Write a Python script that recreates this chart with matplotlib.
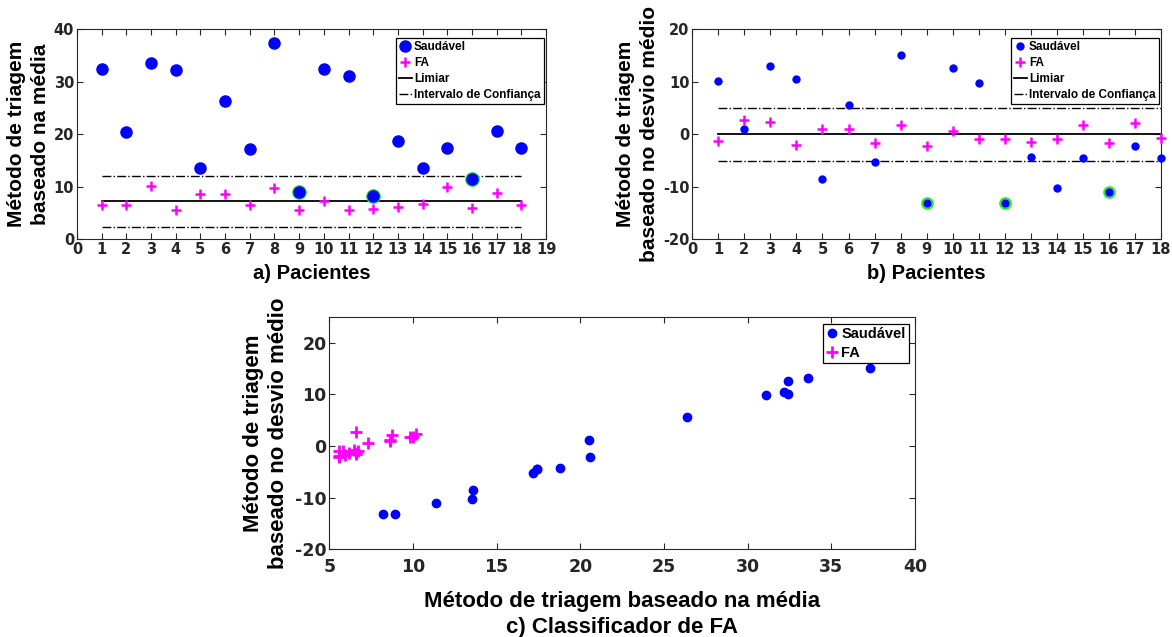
import numpy as np
import matplotlib.pyplot as plt

plt.rcParams['font.family'] = ['Liberation Sans', 'DejaVu Sans']
plt.rcParams['font.weight'] = 'bold'
plt.rcParams['axes.unicode_minus'] = False

# --- Data ---
pacientes = np.arange(1, 19)
media_saudavel = [32.4, 20.5, 33.6, 32.2, 13.6, 26.4, 17.2, 37.3, 8.95,
                  32.4, 31.1, 8.2, 18.8, 13.5, 17.4, 11.4, 20.6, 17.4]
media_fa = [6.6, 6.6, 10.2, 5.6, 8.6, 8.6, 6.6, 9.8, 5.6,
            7.3, 5.6, 5.8, 6.15, 6.7, 10.0, 5.95, 8.75, 6.5]
desvio_saudavel = [10.1, 1.1, 13.1, 10.5, -8.6, 5.6, -5.2, 15.1, -13.1,
                   12.6, 9.8, -13.1, -4.3, -10.3, -4.45, -11.0, -2.2, -4.45]
desvio_fa = [-1.35, 2.7, 2.3, -2.0, 0.95, 1.1, -1.65, 1.8, -2.2,
             0.57, -0.95, -0.9, -1.4, -0.9, 1.7, -1.7, 2.1, -0.7]
limiar_media = 7.3
ic_media = [2.4, 12.1]
limiar_desvio = 0.0
ic_desvio = [-5.0, 5.0]
destaque = [9, 12, 16]  # healthy patients misclassified

GRAY = '#262626'
BLUE = '#0000ff'
MAG = '#ff00ff'
GREEN = '#22ee22'

W, H = 1172, 637
fig = plt.figure(figsize=(W / 100, H / 100), dpi=100)


def px_axes(left, top, right, bottom):
    return fig.add_axes([left / W, 1 - bottom / H, (right - left) / W, (bottom - top) / H])


def style(ax, fs, xpad=2):
    # wide bold digits like the original MATLAB export
    ax.tick_params(direction='in', top=True, right=True, length=4, width=0.8,
                   colors=GRAY, labelsize=fs, pad=2)
    ax.tick_params(axis='x', pad=xpad)
    for s in ax.spines.values():
        s.set_color(GRAY)
        s.set_linewidth(0.8)
    for lab in ax.get_xticklabels() + ax.get_yticklabels():
        lab.set_fontweight('bold')
        lab.set_family('DejaVu Sans')


def panel(ax, saud, fa, limiar, ic, ms, ring, fa_ms, xmax, ylim, yticks, ylabel, xlabel):
    idx = [p - 1 for p in destaque]
    ax.plot(pacientes[idx], np.array(saud)[idx], 'o', ms=ring, mfc='none',
            mec=GREEN, mew=1.6, zorder=3, clip_on=False)
    ax.plot(pacientes, saud, 'o', color=BLUE, ms=ms, label='Saudável', zorder=4,
            clip_on=False)
    ax.plot(pacientes, fa, '+', color=MAG, ms=fa_ms, mew=1.8, label='FA', zorder=4,
            clip_on=False)
    ax.plot([1, 18], [limiar, limiar], '-', color='black', lw=1.3, label='Limiar')
    ax.plot([1, 18], [ic[1], ic[1]], '-.', color='black', lw=1.0,
            label='Intervalo de Confiança')
    ax.plot([1, 18], [ic[0], ic[0]], '-.', color='black', lw=1.0)
    ax.set_xlim(0, xmax)
    ax.set_xticks(range(0, xmax + 1))
    ax.set_ylim(*ylim)
    ax.set_yticks(yticks)
    ax.set_ylabel(ylabel, fontsize=15, fontweight='bold', labelpad=3, linespacing=1.3)
    ax.set_xlabel(xlabel, fontsize=14.5, fontweight='bold', labelpad=5)
    style(ax, 10.5)
    leg = ax.legend(loc='upper right', bbox_to_anchor=(0.995, 0.96),
                    handlelength=1.1, handletextpad=0.2, labelspacing=0.35,
                    borderpad=0.25, borderaxespad=0, fancybox=False, framealpha=1,
                    edgecolor='black', prop={'weight': 'bold', 'size': 8.5})
    leg.get_frame().set_linewidth(0.9)


# a) mean-based method
ax_a = px_axes(77, 29.3, 546, 239.3)
panel(ax_a, media_saudavel, media_fa, limiar_media, ic_media, 8, 9, 6.5, 19,
      (0, 40), [0, 10, 20, 30, 40],
      'Método de triagem\nbaseado na média', 'a) Pacientes')

# b) mean-deviation method
ax_b = px_axes(692.3, 29.3, 1161, 239.3)
panel(ax_b, desvio_saudavel, desvio_fa, limiar_desvio, ic_desvio, 5, 7.5, 6.5, 18,
      (-20, 20), [-20, -10, 0, 10, 20],
      'Método de triagem\nbaseado no desvio médio', 'b) Pacientes')

# c) classifier: mean vs deviation
ax_c = px_axes(329.3, 316.7, 915, 549.3)
ax_c.plot(media_saudavel, desvio_saudavel, 'o', color=BLUE, ms=6, label='Saudável')
ax_c.plot(media_fa, desvio_fa, '+', color=MAG, ms=8, mew=2, label='FA')
ax_c.set_xlim(5, 40)
ax_c.set_ylim(-20, 25)
ax_c.set_yticks([-20, -10, 0, 10, 20])
ax_c.set_xlabel('Método de triagem baseado na média\nc) Classificador de FA',
                fontsize=16, fontweight='bold', labelpad=11, linespacing=1.3)
ax_c.set_ylabel('Método de triagem\nbaseado no desvio médio', fontsize=16,
                fontweight='bold', labelpad=4, linespacing=1.3)
style(ax_c, 12.5, xpad=6)
leg = ax_c.legend(loc='upper right', bbox_to_anchor=(0.99, 0.97),
                  handlelength=0.8, handletextpad=0.2, labelspacing=0.3,
                  borderpad=0.25, borderaxespad=0, fancybox=False, framealpha=1,
                  edgecolor='black', prop={'weight': 'bold', 'size': 10.5})
leg.get_frame().set_linewidth(0.9)

fig.savefig('out.png', dpi=100)
plt.close(fig)
